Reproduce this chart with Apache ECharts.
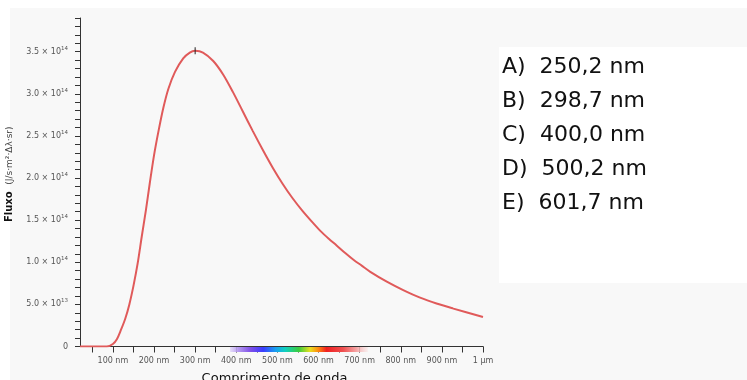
<!DOCTYPE html>
<html>
<head>
<meta charset="utf-8">
<script src="https://cdn.jsdelivr.net/npm/echarts@6/dist/echarts.min.js"></script>
<style>
  html, body { margin: 0; padding: 0; background: #fff; }
  #chart { width: 747px; height: 380px; }
</style>
</head>
<body>
<div id="chart"></div>
<script>
// comprimento de onda (nm) e fluxo (unidades de 1e14 J/s·m²·Δλ·sr)
const wavelengthNm = [20, 60, 85, 100, 110, 119, 130, 140, 150, 160, 170, 180, 190, 200, 211, 223, 235, 251, 271, 287, 300, 319, 344, 368, 392, 416, 440, 465, 489, 513, 537, 561, 586, 605, 625, 644, 665, 685, 705, 725, 766, 806, 847, 887, 928, 1000]
const fluxE14 = [0, 0, 0, 0.03, 0.09, 0.19, 0.33, 0.5, 0.72, 0.98, 1.3, 1.61, 1.95, 2.27, 2.56, 2.84, 3.06, 3.26, 3.42, 3.49, 3.51, 3.49, 3.39, 3.23, 3.02, 2.79, 2.56, 2.33, 2.12, 1.93, 1.76, 1.61, 1.47, 1.37, 1.28, 1.2, 1.11, 1.03, 0.96, 0.89, 0.77, 0.67, 0.58, 0.51, 0.45, 0.35]

const peakNm = 300
const peakFlux = 3.51

const xTickValues = [50, 100, 150, 200, 250, 300, 350, 400, 450, 500, 550, 600, 650, 700, 750, 800, 850, 900, 950, 1000]
const xLabelValues = [100, 200, 300, 400, 500, 600, 700, 800, 900, 1000]
const xLabelText = ['100 nm', '200 nm', '300 nm', '400 nm', '500 nm', '600 nm', '700 nm', '800 nm', '900 nm', '1 µm']

const yLabelValues = [0, 0.5, 1, 1.5, 2, 2.5, 3, 3.5]
const yLabelMant = ['0', '5.0', '1.0', '1.5', '2.0', '2.5', '3.0', '3.5']
const yLabelExp = ['', '13', '14', '14', '14', '14', '14', '14']

// faixa do espectro visível
const spectrumNm = [385, 720]

const answers = ['A)  250,2 nm', 'B)  298,7 nm', 'C)  400,0 nm', 'D)  500,2 nm', 'E)  601,7 nm']

const chart = echarts.init(document.getElementById('chart'))

const yTicks = []
for (let i = 0; i <= 39; i++) yTicks.push(i / 10)

const spectrumGradient = new echarts.graphic.LinearGradient(0, 0, 1, 0, [
  { offset: 0, color: 'rgba(215,200,250,0.6)' },
  { offset: 0.06, color: '#b69af0' },
  { offset: 0.15, color: '#7e4fe8' },
  { offset: 0.24, color: '#3a3cff' },
  { offset: 0.33, color: '#1a9ff0' },
  { offset: 0.4, color: '#10d0c0' },
  { offset: 0.5, color: '#3ccc3c' },
  { offset: 0.58, color: '#e8e020' },
  { offset: 0.64, color: '#ff8a10' },
  { offset: 0.7, color: '#f02020' },
  { offset: 0.82, color: '#f05050' },
  { offset: 0.92, color: '#f5a8a8' },
  { offset: 1, color: 'rgba(250,220,220,0.4)' }
])

chart.setOption({
  backgroundColor: '#f8f8f8',
  animation: false,
  graphic: [
    { type: 'rect', left: 0, top: 0, shape: { width: 747, height: 8 }, style: { fill: '#fff' }, silent: true },
    { type: 'rect', left: 0, top: 0, shape: { width: 10, height: 380 }, style: { fill: '#fff' }, silent: true },
    { type: 'rect', left: 499, top: 47, shape: { width: 248, height: 236 }, style: { fill: '#fff' }, silent: true }
  ].concat(answers.map((t, i) => ({
    type: 'text',
    left: 502,
    top: 56 + i * 34,
    style: {
      text: t,
      font: '22px "DejaVu Sans"',
      fill: '#111'
    }
  }))),
  grid: {
    left: 80,
    right: 264,
    top: 18,
    bottom: 33.5,
    outerBoundsMode: 'none',
    containLabel: false
  },
  xAxis: {
    type: 'value',
    min: 20,
    max: 1000,
    name: 'Comprimento de onda',
    nameLocation: 'middle',
    nameGap: 26,
    nameTextStyle: {
      fontFamily: 'DejaVu Sans',
      fontSize: 13,
      color: '#111',
      padding: [0, 14, 0, 0]
    },
    axisLine: { lineStyle: { color: '#333', width: 1 } },
    axisTick: {
      length: 6,
      customValues: xTickValues,
      lineStyle: { color: '#333' }
    },
    axisLabel: {
      customValues: xLabelValues,
      margin: 10,
      fontSize: 8,
      color: '#555',
      fontFamily: 'DejaVu Sans',
      formatter: v => xLabelText[xLabelValues.indexOf(v)] || ''
    },
    splitLine: { show: false }
  },
  yAxis: {
    type: 'value',
    min: 0,
    max: 3.9,
    name: '{b|Fluxo}  {u|(J/s·m²·Δλ·sr)}',
    nameLocation: 'middle',
    nameGap: 63,
    nameRotate: 90,
    nameTextStyle: {
      padding: [0, 0, 0, 16],
      rich: {
        b: { fontFamily: 'DejaVu Sans', fontWeight: 'bold', fontSize: 10, color: '#111' },
        u: { fontFamily: 'DejaVu Sans', fontSize: 9, color: '#444' }
      }
    },
    axisLine: { show: true, lineStyle: { color: '#333', width: 1 } },
    axisTick: {
      show: true,
      length: 5,
      customValues: yTicks,
      lineStyle: { color: '#333' }
    },
    axisLabel: {
      customValues: yLabelValues,
      margin: 12,
      formatter: v => {
        const i = yLabelValues.findIndex(x => Math.abs(x - v) < 1e-6)
        if (i < 0) return ''
        if (!yLabelExp[i]) return '{m|' + yLabelMant[i] + '}'
        return '{m|' + yLabelMant[i] + ' × 10}{e|' + yLabelExp[i] + '}'
      },
      rich: {
        m: { fontFamily: 'DejaVu Sans', fontSize: 8, color: '#555' },
        e: { fontFamily: 'DejaVu Sans', fontSize: 5.5, color: '#555', verticalAlign: 'bottom', padding: [0, 0, 7, 0] }
      }
    },
    splitLine: { show: false }
  },
  series: [
    {
      type: 'custom',
      silent: true,
      z: 1,
      data: [[spectrumNm[0], spectrumNm[1]]],
      renderItem: (params, api) => {
        const a = api.coord([api.value(0), 0])
        const b = api.coord([api.value(1), 0])
        return {
          type: 'rect',
          shape: { x: a[0], y: a[1] + 0.5, width: b[0] - a[0], height: 5 },
          style: { fill: spectrumGradient }
        }
      }
    },
    {
      type: 'line',
      data: wavelengthNm.map((x, i) => [x, fluxE14[i]]),
      smooth: 0.3,
      showSymbol: false,
      z: 3,
      lineStyle: { color: '#e05a5a', width: 2 },
      markPoint: {
        silent: true,
        symbol: 'rect',
        symbolSize: [1, 7],
        itemStyle: { color: '#222' },
        label: { show: false },
        data: [{ coord: [peakNm, peakFlux] }]
      }
    }
  ]
})
</script>
</body>
</html>
